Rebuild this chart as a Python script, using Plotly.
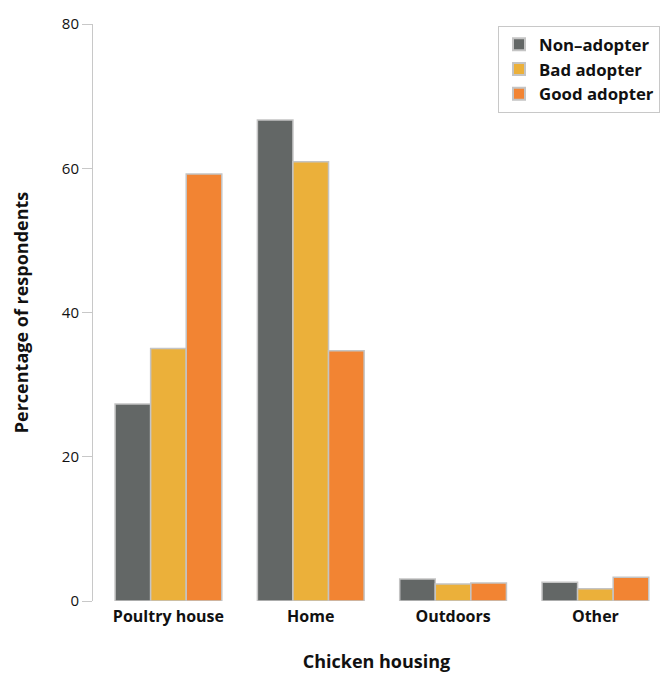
import plotly.graph_objects as go

categories = ["Poultry house", "Home", "Outdoors", "Other"]
non_adopter = [27.3, 66.7, 3.05, 2.6]
bad_adopter = [35.0, 60.9, 2.35, 1.7]
good_adopter = [59.2, 34.7, 2.5, 3.3]
series_names = ["Non\u2013adopter", "Bad adopter", "Good adopter"]
colors = ["#636766", "#ebb03a", "#f28433"]
y_ticks = [0, 20, 40, 60, 80]

fig = go.Figure()
for name, vals, col in zip(series_names, [non_adopter, bad_adopter, good_adopter], colors):
    fig.add_trace(go.Bar(
        x=categories, y=vals, name=name,
        marker=dict(color=col, line=dict(color="#c4c4c4", width=1.5)),
    ))

fig.update_layout(
    width=660, height=673,
    margin=dict(l=93, r=0, t=24, b=72),
    plot_bgcolor="white", paper_bgcolor="white",
    barmode="group", bargap=0.25, bargroupgap=0,
    font=dict(family="Open Sans, Noto Sans, sans-serif", size=15, color="#111"),
    showlegend=True,
    legend=dict(
        x=1.0, y=0.997, xanchor="right", yanchor="top",
        bordercolor="#c8c8c8", borderwidth=1, bgcolor="white",
        font=dict(size=16.8, family="Open Sans, sans-serif", weight="bold"),
        itemsizing="constant", tracegroupgap=0,
    ),
    xaxis=dict(
        range=[-0.53, 3.454], showline=False, showgrid=False, automargin=False,
        ticks="outside", ticklen=1, tickcolor="rgba(0,0,0,0)",
        tickfont=dict(size=16, weight="bold"),
        title=dict(text="<b>Chicken housing</b>", font=dict(size=18), standoff=33),
    ),
    yaxis=dict(
        range=[0, 80], tickvals=y_ticks, showgrid=False, zeroline=False,
        showline=True, linecolor="#c8c8c8", linewidth=1, automargin=False,
        ticks="outside", ticklen=10, tickcolor="#c8c8c8",
        tickfont=dict(size=15),
        title=dict(text="<b>Percentage of respondents</b>", font=dict(size=18), standoff=28),
    ),
)

fig.write_html(
    "out.html",
    config={"displayModeBar": False},
    post_script="document.body.style.margin='0';document.body.style.overflow='hidden';",
)
